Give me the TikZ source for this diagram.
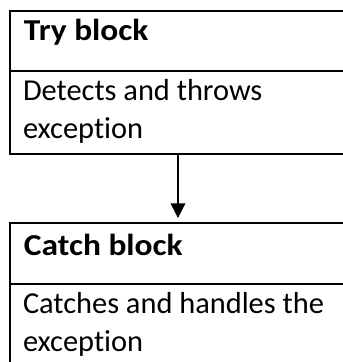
\documentclass[tikz,border=0pt]{standalone}
\usepackage{fontspec}
\setmainfont{Carlito}[Ligatures=NoCommon, BoldFeatures={FakeStretch=1.1}]
\usetikzlibrary{arrows.meta}

\tikzset{
	blockbox/.style={draw, rectangle, anchor=north west, inner sep=0pt, outer sep=0pt, minimum width=300pt},
	blocktext/.style={anchor=base west, inner sep=0pt, font=\fontsize{22.8pt}{28.5pt}\selectfont},
}

\begin{document}
\begin{tikzpicture}[x=0.75pt, y=-0.75pt, line width=1.5pt, arrows={-Triangle[width=11pt, length=11pt]}]
	\useasboundingbox (0,0) rectangle (343,362);

	% try block
	\node[blockbox, minimum height=45pt] (tryhead) at (10,11) {};
	\node[blockbox, minimum height=62.25pt] (trybody) at (10,71) {};
	\node[blocktext] (trytitle) at (23,40) {\textbf{Try block}};
	\node[blocktext] (trytext1) at (22,100) {Detects and throws};
	\node[blocktext] (trytext2) at (22,138) {exception};

	% catch block
	\node[blockbox, minimum height=45.75pt] (catchhead) at (10,223) {};
	\node[blockbox, minimum height=75pt] (catchbody) at (10,284) {};
	\node[blocktext] (catchtitle) at (23,255) {\textbf{Catch block}};
	\node[blocktext] (catchtext1) at (22,313) {Catches and handles the};
	\node[blocktext] (catchtext2) at (22,351) {exception};

	\draw[line width=1pt, shorten >=3.75pt] ([xshift=126pt]trybody.south west) to ([xshift=126pt]catchhead.north west);
\end{tikzpicture}
\end{document}
